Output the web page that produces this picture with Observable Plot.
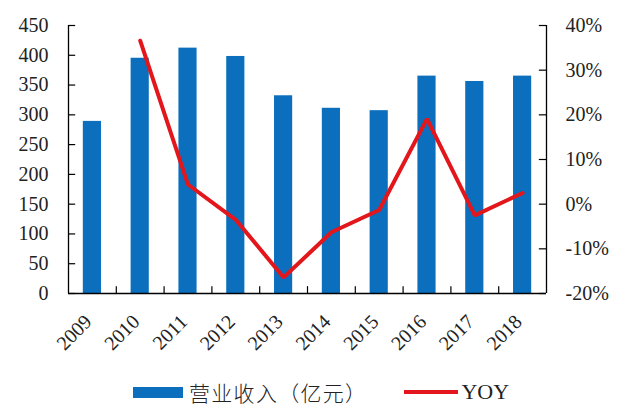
<!DOCTYPE html>
<html>
<head>
<meta charset="utf-8">
<script src="https://cdn.jsdelivr.net/npm/d3@7"></script>
<script src="https://cdn.jsdelivr.net/npm/@observablehq/plot@0.6"></script>
<style>
  body { margin: 0; background: #fff; }
  #chart { width: 640px; }
  .legend { height: 44px; display: flex; align-items: center; padding-left: 133px; }
  .sw-bar { width: 50px; height: 11px; background: #0b6fbe; margin-right: 6px; }
  .lab-cn { font-family: "Noto Sans CJK SC", sans-serif; font-size: 21px; font-weight: 300; letter-spacing: 1.3px; color: #222; margin-right: 37px; }
  .sw-line { width: 54px; height: 4px; background: #e3161c; margin-right: 3px; }
  .lab-en { font-family: "Liberation Serif", serif; font-size: 22px; color: #222; }
</style>
</head>
<body>
<div id="chart"></div>
<div class="legend">
  <div class="sw-bar"></div><span class="lab-cn">营业收入（亿元）</span>
  <div class="sw-line"></div><span class="lab-en">YOY</span>
</div>
<script>
const years = [2009, 2010, 2011, 2012, 2013, 2014, 2015, 2016, 2017, 2018];
const revenue = [289, 395, 412, 398, 332, 311, 307, 365, 356, 365];
const yoyYears = [2010, 2011, 2012, 2013, 2014, 2015, 2016, 2017, 2018];
const yoy = [36.6, 4.4, -3.5, -16.4, -6.3, -1.3, 19.1, -2.5, 2.5];
const leftTicks = [0, 50, 100, 150, 200, 250, 300, 350, 400, 450];
const rightTicks = [-20, -10, 0, 10, 20, 30, 40];

const yMax = 450, pMin = -20, pMax = 40;
const toLeft = p => (p - pMin) / (pMax - pMin) * yMax;
const fromLeft = v => Math.round(v / yMax * (pMax - pMin) + pMin);

const bars = years.map((y, i) => ({year: y, rev: revenue[i]}));
const line = yoyYears.map((y, i) => ({year: y, v: toLeft(yoy[i])}));
const xMin = years[0] - 0.5, xMax = years[years.length - 1] + 0.5;
const bounds = years.slice(0, -1).map(y => y + 0.5);
const half = 0.19, tickLenX = 0.15, tickLenY = 11.5;

const chart = Plot.plot({
  width: 640,
  height: 370,
  marginTop: 25,
  marginBottom: 77,
  marginLeft: 68,
  marginRight: 94,
  style: {fontFamily: "Liberation Serif, serif", fontSize: "20px", color: "#222", background: "#fff"},
  x: {domain: [xMin, xMax]},
  y: {domain: [0, yMax]},
  marks: [
    Plot.rectY(bars, {x1: d => d.year - half, x2: d => d.year + half, y: "rev", fill: "#0b6fbe"}),
    Plot.line(line, {x: "year", y: "v", stroke: "#e3161c", strokeWidth: 4, strokeLinejoin: "miter"}),
    Plot.ruleX([xMin, xMax], {stroke: "#000", strokeWidth: 1.3}),
    Plot.ruleY([0], {stroke: "#000", strokeWidth: 1.3}),
    Plot.ruleY(leftTicks, {x1: xMin, x2: xMin + tickLenX, stroke: "#000", strokeWidth: 1.2}),
    Plot.ruleY(rightTicks.map(toLeft), {x1: xMax - tickLenX, x2: xMax, stroke: "#000", strokeWidth: 1.2}),
    Plot.ruleX(bounds, {y1: 0, y2: tickLenY, stroke: "#000", strokeWidth: 1.2}),
    Plot.axisY({ticks: leftTicks, tickSize: 0, tickPadding: 20, tickFormat: d => String(d), label: null}),
    Plot.axisY({anchor: "right", ticks: rightTicks.map(toLeft), tickSize: 0, tickPadding: 19, tickFormat: v => fromLeft(v) + "%", label: null}),
    Plot.axisX({ticks: years, tickSize: 0, tickPadding: 25, tickRotate: -45, tickFormat: d => String(d), label: null, dx: -4})
  ]
});
document.getElementById("chart").appendChild(chart);
</script>
</body>
</html>
